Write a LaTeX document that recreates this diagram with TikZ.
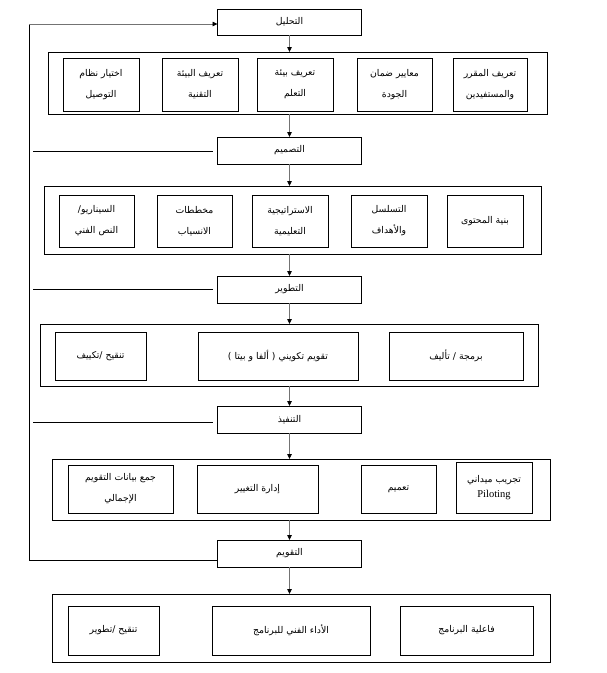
\documentclass[tikz,border=0pt]{standalone}
\usepackage{fontspec}
\setmainfont{Liberation Serif}
\newfontfamily\arabicfont[Script=Arabic]{DejaVu Sans}
\TeXXeTstate=1
\usetikzlibrary{arrows.meta}
\newcommand{\ar}[1]{\beginR #1\endR}
\begin{document}
\begin{tikzpicture}[x=1pt,y=-1pt,
  box/.style={draw=black,line width=0.8pt,inner sep=0pt,outer sep=0pt,align=center,
    font=\arabicfont\fontsize{9.3}{11}\selectfont},
  outerbox/.style={draw=black,line width=0.8pt,inner sep=0pt,outer sep=0pt},
  arr/.style={draw=black!55,line width=0.8pt,-{Triangle[length=5pt,width=4.5pt,color=black]}},
  fb/.style={draw=black,line width=0.8pt},
  fbarr/.style={draw=black!55,line width=0.8pt,-{Triangle[length=5pt,width=4.5pt,color=black]}}
]
\useasboundingbox (0,0) rectangle (606,673);
\fill[white] (0,0) rectangle (606,673);

% phase boxes
\node[box,minimum width=144pt,minimum height=26pt] (p1) at (289.5,22) {\ar{التحليل}};
\node[box,minimum width=144pt,minimum height=27pt] (p2) at (289.5,150.5) {\ar{التصميم}};
\node[box,minimum width=144pt,minimum height=27pt] (p3) at (289.5,289.5) {\ar{التطوير}};
\node[box,minimum width=144pt,minimum height=27pt] (p4) at (289.5,419.5) {\ar{التنفيذ}};
\node[box,minimum width=144pt,minimum height=27pt] (p5) at (289.5,553.5) {\ar{التقويم}};

% outer row boxes
\node[outerbox,minimum width=499pt,minimum height=62pt] (r1) at (297.5,83) {};
\node[outerbox,minimum width=497pt,minimum height=68pt] (r2) at (292.5,220) {};
\node[outerbox,minimum width=498pt,minimum height=62pt] (r3) at (289,355) {};
\node[outerbox,minimum width=498pt,minimum height=61pt] (r4) at (301,489.5) {};
\node[outerbox,minimum width=498pt,minimum height=68pt] (r5) at (301,628) {};

% row 1
\node[box,minimum width=76pt,minimum height=53pt] (a1) at (101,84.5) {\ar{اختيار نظام}\\[10pt]\ar{التوصيل}};
\node[box,minimum width=76pt,minimum height=53pt] (a2) at (200,84.5) {\ar{تعريف البيئة}\\[10pt]\ar{التقنية}};
\node[box,minimum width=76pt,minimum height=53pt] (a3) at (295,84.5) {\ar{تعريف بيئة}\\[10pt]\ar{التعلم}};
\node[box,minimum width=75pt,minimum height=53pt] (a4) at (394.5,84.5) {\ar{معايير ضمان}\\[10pt]\ar{الجودة}};
\node[box,minimum width=74pt,minimum height=53pt] (a5) at (490,84.5) {\ar{تعريف المقرر}\\[10pt]\ar{والمستفيدين}};

% row 2
\node[box,minimum width=75pt,minimum height=52pt] (b1) at (96.5,221) {\beginR السيناريو\hbox{/}\endR\\[10pt]\ar{النص الفني}};
\node[box,minimum width=75pt,minimum height=52pt] (b2) at (194.5,221) {\ar{مخططات}\\[10pt]\ar{الانسياب}};
\node[box,minimum width=76pt,minimum height=52pt] (b3) at (290,221) {\ar{الاستراتيجية}\\[10pt]\ar{التعليمية}};
\node[box,minimum width=76pt,minimum height=52pt] (b4) at (389,221) {\ar{التسلسل}\\[10pt]\ar{والأهداف}};
\node[box,minimum width=76pt,minimum height=52pt] (b5) at (485,221) {\ar{بنية المحتوى}};

% row 3
\node[box,minimum width=91pt,minimum height=48pt] (c1) at (100.5,356) {\beginR تنقيح \hbox{/}تكييف\endR};
\node[box,minimum width=160pt,minimum height=48pt] (c2) at (278,356) {) \ar{ألفا و بيتا} ( \ar{تقويم تكويني}};
\node[box,minimum width=134pt,minimum height=48pt] (c3) at (456,356) {\ar{برمجة / تأليف}};

% row 4
\node[box,minimum width=105pt,minimum height=48pt] (d1) at (120.5,489) {\ar{جمع بيانات التقويم}\\[10pt]\ar{الإجمالي}};
\node[box,minimum width=121pt,minimum height=48pt] (d2) at (257.5,489) {\ar{إدارة التغيير}};
\node[box,minimum width=75pt,minimum height=48pt] (d3) at (398.5,489) {\ar{تعميم}};
\node[box,minimum width=76pt,minimum height=51pt] (d4) at (494,487.5) {\ar{تجريب ميداني}\\[4pt]{\rmfamily\fontsize{10.5}{12}\selectfont Piloting}};

% row 5
\node[box,minimum width=91pt,minimum height=49pt] (e1) at (113.5,630.5) {\beginR تنقيح \hbox{/}تطوير\endR};
\node[box,minimum width=158pt,minimum height=49pt] (e2) at (291,630.5) {\ar{الأداء الفني للبرنامج}};
\node[box,minimum width=133pt,minimum height=49pt] (e3) at (466.5,630.5) {\ar{فاعلية البرنامج}};

% vertical arrows
\draw[arr] (p1.south) -- (p1.south |- r1.north);
\draw[arr] (r1.south -| p2.north) -- (p2.north);
\draw[arr] (p2.south) -- (p2.south |- r2.north);
\draw[arr] (r2.south -| p3.north) -- (p3.north);
\draw[arr] (p3.south) -- (p3.south |- r3.north);
\draw[arr] (r3.south -| p4.north) -- (p4.north);
\draw[arr] (p4.south) -- (p4.south |- r4.north);
\draw[arr] (r4.south -| p5.north) -- (p5.north);
\draw[arr] (p5.south) -- (p5.south |- r5.north);

% feedback line
\coordinate (ftop) at (29,24);
\coordinate (fbot) at (29,560);
\draw[fb] (fbot) -- (ftop);
\draw[fbarr] (ftop) -- (ftop -| p1.west);
\draw[fb] (fbot) -- (fbot -| p5.west);

% stub lines
\coordinate (s2a) at (33,151); \coordinate (s2b) at (213,151);
\coordinate (s3a) at (33,289); \coordinate (s3b) at (213,289);
\coordinate (s4a) at (33,422); \coordinate (s4b) at (213,422);
\draw[fb] (s2a) -- (s2b);
\draw[fb] (s3a) -- (s3b);
\draw[fb] (s4a) -- (s4b);
\end{tikzpicture}
\end{document}
